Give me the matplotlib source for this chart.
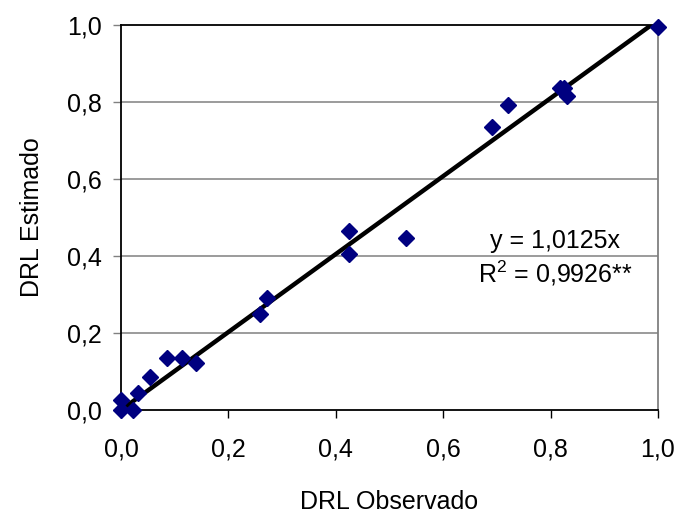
import matplotlib
matplotlib.use("Agg")
import matplotlib.pyplot as plt
import numpy as np

# Datos (DRL observado vs estimado)
drl_observado = [0.0, 0.0, 0.023, 0.032, 0.054, 0.085, 0.113, 0.140,
                 0.258, 0.271, 0.425, 0.425, 0.531, 0.690, 0.721,
                 0.818, 0.825, 0.831, 1.0]
drl_estimado = [0.026, 0.0, 0.0, 0.045, 0.086, 0.135, 0.135, 0.122,
                0.249, 0.290, 0.466, 0.404, 0.448, 0.735, 0.792,
                0.836, 0.836, 0.816, 0.996]
pendiente = 1.0125
ticks = [0.0, 0.2, 0.4, 0.6, 0.8, 1.0]
tick_labels = ["0,0", "0,2", "0,4", "0,6", "0,8", "1,0"]

plt.rcParams['font.family'] = ['Liberation Sans', 'DejaVu Sans']
plt.rcParams['mathtext.fontset'] = 'custom'
plt.rcParams['mathtext.rm'] = 'Liberation Sans'
plt.rcParams['mathtext.it'] = 'Liberation Sans'

fig = plt.figure(figsize=(6.82, 5.2), dpi=100)
ax = fig.add_axes([0.1774, 0.2115, 0.7874, 0.7404])

# lineas de referencia horizontales
for t in ticks[1:-1]:
    ax.axhline(t, color='#808080', lw=1.1, zorder=1)

x_linea = np.array([0.0, 1.0])
ax.plot(x_linea, pendiente * x_linea, color='black', lw=3.2, zorder=2,
        solid_capstyle='butt', clip_on=True)
ax.plot(drl_observado, drl_estimado, linestyle='none', marker='D',
        markersize=8.5, color='#000080', zorder=3, clip_on=False)

ax.set_xlim(0, 1)
ax.set_ylim(0, 1)
ax.set_xticks(ticks)
ax.set_xticklabels(tick_labels)
ax.set_yticks(ticks)
ax.set_yticklabels(tick_labels)
ax.tick_params(axis='both', labelsize=18, direction='out', length=6,
               width=1, color='#808080')
ax.tick_params(axis='x', pad=14, color='black')
ax.tick_params(axis='y', pad=8)

ax.spines['left'].set_color('black')
ax.spines['bottom'].set_color('black')
ax.spines['top'].set_color('black')
ax.spines['right'].set_color('#808080')
for s in ax.spines.values():
    s.set_linewidth(1.3)

ax.set_xlabel('DRL Observado', fontsize=18, labelpad=20)
ax.set_ylabel('DRL Estimado', fontsize=18, labelpad=16)

ax.text(0.808, 0.44, 'y = 1,0125x', fontsize=18, ha='center', va='center')
ax.text(0.808, 0.355, r'R$^{\mathregular{2}}$ = 0,9926**', fontsize=18,
        ha='center', va='center')

fig.savefig('out.png', dpi=100)
